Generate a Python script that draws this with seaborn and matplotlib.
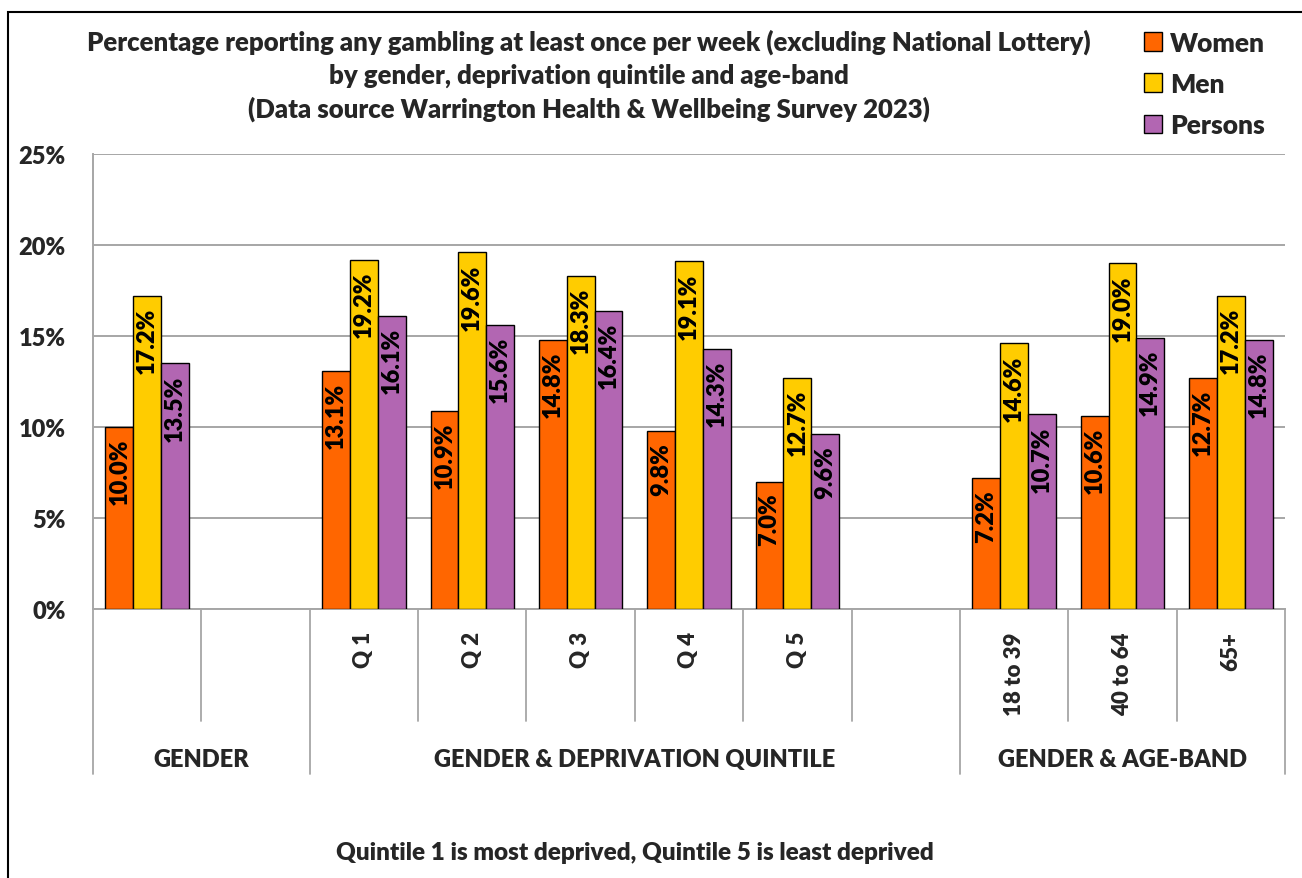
import matplotlib
matplotlib.use("Agg")
import matplotlib.pyplot as plt
import seaborn as sns
import pandas as pd
import numpy as np
from matplotlib.patches import Rectangle
from matplotlib.transforms import blended_transform_factory

# Category slots along the x axis (two empty slots separate the three groups)
slots = ["gender", "gap_a", "Q 1", "Q 2", "Q 3", "Q 4", "Q 5", "gap_b", "18 to 39", "40 to 64", "65+"]
slot_labels = ["", "", "Q 1", "Q 2", "Q 3", "Q 4", "Q 5", "", "18 to 39", "40 to 64", "65+"]

women = [10.0, np.nan, 13.1, 10.9, 14.8, 9.8, 7.0, np.nan, 7.2, 10.6, 12.7]
men = [17.2, np.nan, 19.2, 19.6, 18.3, 19.1, 12.7, np.nan, 14.6, 19.0, 17.2]
persons = [13.5, np.nan, 16.1, 15.6, 16.4, 14.3, 9.6, np.nan, 10.7, 14.9, 14.8]

series = ["Women", "Men", "Persons"]
colors = ["#FF6600", "#FFCC00", "#B266B2"]

group_names = ["GENDER", "GENDER & DEPRIVATION QUINTILE", "GENDER & AGE-BAND"]
group_first = [0, 2, 8]
group_last = [1, 7, 10]

y_ticks = [0, 5, 10, 15, 20, 25]

title_lines = [
    "Percentage reporting any gambling at least once per week (excluding National Lottery)",
    "by gender, deprivation quintile and age-band",
    "(Data source Warrington Health & Wellbeing Survey 2023)",
]
footnote = "Quintile 1 is most deprived, Quintile 5 is least deprived"

sns.set_style("white")
plt.rcParams["font.family"] = ["Lato", "DejaVu Sans"]
WT = "heavy"
plt.rcParams["font.weight"] = WT

rows = []
for name, vals in zip(series, [women, men, persons]):
    for s, v in zip(slots, vals):
        rows.append({"slot": s, "series": name, "value": v})
df = pd.DataFrame(rows)

W, H = 1302, 879
fig = plt.figure(figsize=(W / 100, H / 100), dpi=100)
ax = fig.add_axes([93 / W, 1 - 610 / H, (1285 - 93) / W, (610 - 155) / H])

sns.barplot(data=df, x="slot", y="value", hue="series", order=slots, hue_order=series,
            palette=colors, width=0.77, edgecolor="black", linewidth=1.0,
            errorbar=None, saturation=1, ax=ax, zorder=3)

grid_col = "#A6A6A6"
ax.set_ylim(0, 25)
ax.set_xlim(-0.5, len(slots) - 0.5)
ax.set_yticks(y_ticks)
ax.set_yticklabels([f"{t}%" for t in y_ticks], fontsize=17, fontweight=WT)
ax.yaxis.grid(True, color=grid_col, linewidth=1.4, zorder=0)
ax.set_axisbelow(True)
ax.tick_params(axis="y", length=5.8, width=1.2, color=grid_col, pad=14)
ax.set_xticks(range(len(slots)))
ax.set_xticklabels(slot_labels, rotation=90, fontsize=16, fontweight=WT)
ax.tick_params(axis="x", length=0, pad=16)
ax.set_xlabel("")
ax.set_ylabel("")
for side in ["top", "right"]:
    ax.spines[side].set_visible(False)
for side in ["left", "bottom"]:
    ax.spines[side].set_color(grid_col)
    ax.spines[side].set_linewidth(1.4)

# Value labels written inside the top of each bar
for cont in ax.containers:
    for bar, val in zip(cont.patches, cont.datavalues):
        if np.isnan(val):
            continue
        ax.annotate(f"{val:.1f}%", (bar.get_x() + bar.get_width() / 2, val),
                    xytext=(0, -8), textcoords="offset points", rotation=90,
                    ha="center", va="top", fontsize=17, fontweight=WT,
                    color="black", zorder=5)

# Category separators below the axis and group labels
trans = blended_transform_factory(ax.transData, ax.transAxes)
axis_h = 610 - 155
short = -112 / axis_h
long_ = -165 / axis_h
group_edges = set([g - 0.5 for g in group_first] + [group_last[-1] + 0.5])
for b in np.arange(-0.5, len(slots), 1.0):
    low = long_ if b in group_edges else short
    ax.plot([b, b], [0, low], transform=trans, color=grid_col, linewidth=1.3, clip_on=False)
for name, a, z in zip(group_names, group_first, group_last):
    ax.text((a + z) / 2, -150 / axis_h, name, transform=trans, ha="center", va="center",
            fontsize=17, fontweight=WT)

# Legend at top right
handles, labels = ax.get_legend_handles_labels()
ax.legend(handles, labels, loc="upper left", bbox_to_anchor=(1120 / W, 1 - 8 / H),
          bbox_transform=fig.transFigure, frameon=False,
          handlelength=0.7, handleheight=0.7, handletextpad=0.3, labelspacing=0.65,
          prop={"weight": WT, "size": 19})

# Title and footnote
for line, yy in zip(title_lines, [42, 76, 109]):
    fig.text(589 / W, 1 - yy / H, line, ha="center", va="center", fontsize=18.5, fontweight=WT)
fig.text(635 / W, 1 - 853 / H, footnote, ha="center", va="center", fontsize=17.5, fontweight=WT)

# Outer frame
fig.patches.append(Rectangle((8 / W, -0.05), 1.2, 1.05 - 13 / H, transform=fig.transFigure,
                             fill=False, edgecolor="black", linewidth=1.5))

fig.savefig("out.png", dpi=100)
